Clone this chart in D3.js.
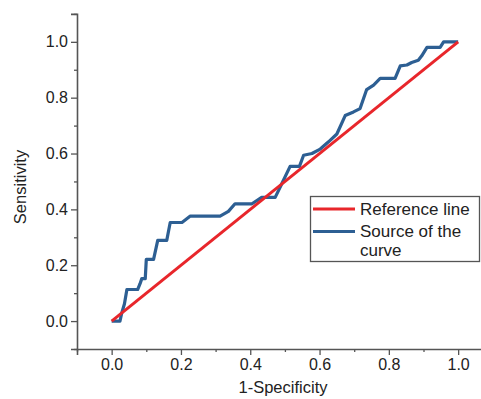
<!DOCTYPE html>
<html>
<head>
<meta charset="utf-8">
<script src="https://cdn.jsdelivr.net/npm/d3@7"></script>
<style>
  body { margin: 0; background: #fff; }
  text { font-family: "Liberation Sans", Arial, sans-serif; fill: #222; }
</style>
</head>
<body>
<div id="vis"></div>
<script>
// ROC curve points (1-specificity, sensitivity)
var fpr = [0, 0.024, 0.029, 0.037, 0.044, 0.075, 0.082, 0.087, 0.097, 0.1, 0.121, 0.133, 0.159, 0.169, 0.203, 0.227,
  0.313, 0.337, 0.356, 0.405, 0.433, 0.472, 0.491, 0.515, 0.542, 0.554, 0.578, 0.602, 0.626, 0.65, 0.674, 0.698,
  0.717, 0.736, 0.756, 0.775, 0.818, 0.833, 0.852, 0.866, 0.885, 0.895, 0.91, 0.948, 0.958, 1.0];
var tpr = [0, 0, 0.028, 0.062, 0.113, 0.113, 0.134, 0.152, 0.152, 0.221, 0.221, 0.289, 0.289, 0.353, 0.353, 0.376,
  0.376, 0.393, 0.42, 0.42, 0.443, 0.443, 0.492, 0.554, 0.554, 0.594, 0.6, 0.616, 0.642, 0.67, 0.736, 0.749,
  0.761, 0.829, 0.845, 0.869, 0.869, 0.914, 0.917, 0.926, 0.934, 0.95, 0.98, 0.98, 1.0, 1.0];
var refX = [0, 1];
var refY = [0, 1];

var majorTicks = [0, 0.2, 0.4, 0.6, 0.8, 1.0];
var minorTicks = [-0.1, 0.1, 0.3, 0.5, 0.7, 0.9, 1.1];
var seriesNames = ["Reference line", "Source of the curve"];
var seriesColors = ["#e8262b", "#2d5f93"];

var width = 481, height = 399;
var svg = d3.select('#vis').append('svg')
  .attr('width', width)
  .attr('height', height);

var x = d3.scaleLinear().domain([-0.1, 1.1]).range([77, 492.8]);
var y = d3.scaleLinear().domain([-0.1, 1.1]).range([349, 13.9]);

var axisColor = '#555';

// x axis
var gx = svg.append('g').attr('transform', 'translate(0,349)');
gx.call(d3.axisBottom(x).tickValues(majorTicks).tickSize(6).tickPadding(4).tickFormat(d3.format('.1f')));
gx.append('g').call(d3.axisBottom(x).tickValues(minorTicks).tickSize(3).tickFormat(''))
  .select('.domain').remove();

// y axis
var gy = svg.append('g').attr('transform', 'translate(77,0)');
gy.call(d3.axisLeft(y).tickValues(majorTicks).tickSize(6).tickPadding(3).tickFormat(d3.format('.1f')));
gy.append('g').call(d3.axisLeft(y).tickValues(minorTicks).tickSize(3).tickFormat(''))
  .select('.domain').remove();

svg.selectAll('.domain').attr('stroke', axisColor).attr('stroke-width', 1.6);
svg.selectAll('.tick line').attr('stroke', axisColor).attr('stroke-width', 1.3);
svg.selectAll('.tick text').style('font-size', '16px').attr('fill', '#222')
  .style('font-family', '"Liberation Sans", Arial, sans-serif');

// axis titles
svg.append('text')
  .attr('x', 283).attr('y', 393)
  .attr('text-anchor', 'middle')
  .style('font-size', '16.5px')
  .text('1-Specificity');

svg.append('text')
  .attr('transform', 'translate(26,187) rotate(-90)')
  .attr('text-anchor', 'middle')
  .style('font-size', '16.5px')
  .text('Sensitivity');

// lines
var line = d3.line().x(function(d) { return x(d[0]); }).y(function(d) { return y(d[1]); });

var curve = fpr.map(function(v, i) { return [v, tpr[i]]; });
var ref = refX.map(function(v, i) { return [v, refY[i]]; });

svg.append('path').datum(curve)
  .attr('d', line)
  .attr('fill', 'none')
  .attr('stroke', seriesColors[1])
  .attr('stroke-width', 3.2)
  .attr('stroke-linejoin', 'round');

svg.append('path').datum(ref)
  .attr('d', line)
  .attr('fill', 'none')
  .attr('stroke', seriesColors[0])
  .attr('stroke-width', 3);

// legend
var legend = svg.append('g');
legend.append('rect')
  .attr('x', 310.5).attr('y', 196.5)
  .attr('width', 169).attr('height', 65)
  .attr('fill', '#fff')
  .attr('stroke', '#555')
  .attr('stroke-width', 1.3);

var rows = [209, 231.5];
seriesNames.forEach(function(name, i) {
  legend.append('line')
    .attr('x1', 313).attr('x2', 355)
    .attr('y1', rows[i]).attr('y2', rows[i])
    .attr('stroke', seriesColors[i])
    .attr('stroke-width', 3);
});

legend.append('text')
  .attr('x', 360).attr('y', 215)
  .style('font-size', '17px')
  .text(seriesNames[0]);

var t2 = legend.append('text')
  .attr('x', 360).attr('y', 237)
  .style('font-size', '17px');
t2.append('tspan').attr('x', 360).text('Source of the');
t2.append('tspan').attr('x', 360).attr('dy', 18.5).text('curve');
</script>
</body>
</html>
